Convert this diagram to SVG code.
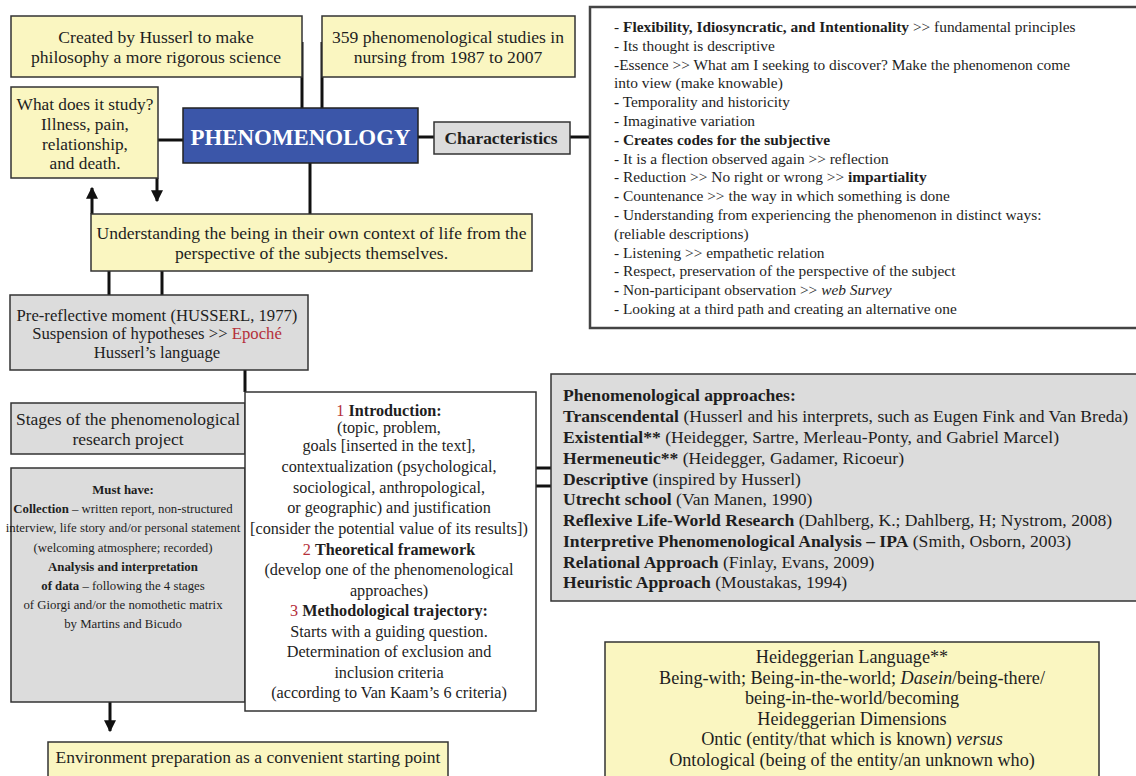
<svg xmlns="http://www.w3.org/2000/svg" width="1136" height="776" viewBox="0 0 1136 776">
<defs>
<style>
.y{fill:#faf6c1;stroke:#333;stroke-width:1.5}
.g{fill:#dcdcdc;stroke:#333;stroke-width:1.5}
.w{fill:#fff;stroke:#333;stroke-width:1.5}
.t{font-family:"Liberation Serif","Times New Roman",serif;fill:#1e1e1e}
.c{text-anchor:middle}
.b{font-weight:bold}
.i{font-style:italic}
.r{fill:#b5303a}
.ln{stroke:#111;stroke-width:3;fill:none}
</style>
<marker id="ah" viewBox="0 0 10 10" refX="9" refY="5" markerWidth="4" markerHeight="4" orient="auto" markerUnits="strokeWidth">
<path d="M0,0 L10,5 L0,10 z" fill="#111"/>
</marker>
</defs>
<rect width="1136" height="776" fill="#fff"/>

<g id="connectors">
<path class="ln" d="M302,42 V108"/>
<path class="ln" d="M322,42 V108"/>
<path class="ln" d="M158,140 H183"/>
<path class="ln" d="M418,137 H434"/>
<path class="ln" d="M570,137 H590"/>
<path class="ln" d="M310,163 V214"/>
<path class="ln" d="M157,178 V201" marker-end="url(#ah)"/>
<path class="ln" d="M92,214 V188" marker-end="url(#ah)"/>
<path class="ln" d="M109,271 V295"/>
<path class="ln" d="M162,271 V295"/>
<path class="ln" d="M245,370 V392"/>
<path class="ln" d="M536,468 H551"/>
<path class="ln" d="M536,486 H551"/>
<path class="ln" d="M110,702 V731" marker-end="url(#ah)"/>
</g>

<g id="n-created">
<rect class="y" x="11" y="16" width="291" height="61"/>
<text class="t c" x="156" y="43" font-size="17.6">Created by Husserl to make</text>
<text class="t c" x="156" y="63" font-size="17.6">philosophy a more rigorous science</text>
</g>

<g id="n-359">
<rect class="y" x="322" y="16" width="253" height="61"/>
<text class="t c" x="448" y="43" font-size="17.6">359 phenomenological studies in</text>
<text class="t c" x="448" y="63" font-size="17.6">nursing from 1987 to 2007</text>
</g>

<g id="n-what">
<rect class="y" x="11" y="87" width="147" height="91"/>
<text class="t c" x="85" y="110" font-size="17.3">What does it study?</text>
<text class="t c" x="85" y="130" font-size="17.3">Illness, pain,</text>
<text class="t c" x="85" y="150" font-size="17.3">relationship,</text>
<text class="t c" x="85" y="169" font-size="17.3">and death.</text>
</g>

<g id="n-phen">
<rect x="183" y="108" width="235" height="55" fill="#3b56a9" stroke="#222" stroke-width="1.5"/>
<text class="t c b" x="300.5" y="145" font-size="22.9" style="fill:#fff">PHENOMENOLOGY</text>
</g>

<g id="n-char">
<rect class="g" x="434" y="122" width="136" height="32"/>
<text class="t c b" x="501" y="144" font-size="17.4">Characteristics</text>
</g>

<g id="n-charlist">
<rect x="590" y="7" width="560" height="321" fill="#fff" stroke="#444" stroke-width="2.5"/>
<g class="t" font-size="15.4">
<text x="614" y="32">- <tspan class="b">Flexibility, Idiosyncratic, and Intentionality</tspan> &gt;&gt; fundamental principles</text>
<text x="614" y="50.8">- Its thought is descriptive</text>
<text x="614" y="69.6">-Essence &gt;&gt; What am I seeking to discover? Make the phenomenon come</text>
<text x="614" y="88.4">into view (make knowable)</text>
<text x="614" y="107.2"><tspan class="b">-</tspan> Temporality and historicity</text>
<text x="614" y="126">- Imaginative variation</text>
<text x="614" y="144.8" class="b">- Creates codes for the subjective</text>
<text x="614" y="163.6">- It is a flection observed again &gt;&gt; reflection</text>
<text x="614" y="182.4">- Reduction &gt;&gt; No right or wrong &gt;&gt; <tspan class="b">impartiality</tspan></text>
<text x="614" y="201.2"><tspan class="b">-</tspan> Countenance &gt;&gt; the way in which something is done</text>
<text x="614" y="220">- Understanding from experiencing the phenomenon in distinct ways:</text>
<text x="614" y="238.8">(reliable descriptions)</text>
<text x="614" y="257.6">- Listening &gt;&gt; empathetic relation</text>
<text x="614" y="276.4">- Respect, preservation of the perspective of the subject</text>
<text x="614" y="295.2"><tspan class="b">-</tspan> Non-participant observation &gt;&gt; <tspan class="i">web Survey</tspan></text>
<text x="614" y="314">- Looking at a third path and creating an alternative one</text>
</g>
</g>

<g id="n-understanding">
<rect class="y" x="91" y="214" width="441" height="57"/>
<text class="t c" x="311.5" y="239" font-size="17.6">Understanding the being in their own context of life from the</text>
<text class="t c" x="311.5" y="259" font-size="17.6">perspective of the subjects themselves.</text>
</g>

<g id="n-prereflective">
<rect class="g" x="10" y="295" width="298" height="75"/>
<text class="t c" x="157" y="320.5" font-size="16.7">Pre-reflective moment (HUSSERL, 1977)</text>
<text class="t c" x="157" y="339" font-size="16.7">Suspension of hypotheses &gt;&gt; <tspan class="r">Epoché</tspan></text>
<text class="t c" x="157" y="358" font-size="16.7">Husserl’s language</text>
</g>

<g id="n-stages">
<rect class="g" x="11" y="403" width="234" height="51"/>
<text class="t c" x="128" y="425" font-size="17.5">Stages of the phenomenological</text>
<text class="t c" x="128" y="445" font-size="17.5">research project</text>
</g>

<g id="n-musthave">
<rect class="g" x="11" y="468" width="234" height="234"/>
<g class="t c" font-size="12.8">
<text x="123" y="493.5" class="b">Must have:</text>
<text x="123" y="512.5"><tspan class="b">Collection</tspan> – written report, non-structured</text>
<text x="123" y="531.5">interview, life story and/or personal statement</text>
<text x="123" y="551.5">(welcoming atmosphere; recorded)</text>
<text x="123" y="570.5" class="b">Analysis and interpretation</text>
<text x="123" y="589.5"><tspan class="b">of data</tspan> – following the 4 stages</text>
<text x="123" y="608.5">of Giorgi and/or the nomothetic matrix</text>
<text x="123" y="627.5">by Martins and Bicudo</text>
</g>
</g>

<g id="n-intro">
<rect class="w" x="245" y="392" width="291" height="319"/>
<g class="t c" font-size="16.2">
<text x="389" y="415.5"><tspan class="r">1</tspan> <tspan class="b">Introduction:</tspan></text>
<text x="389" y="433">(topic, problem,</text>
<text x="389" y="450.5">goals [inserted in the text],</text>
<text x="389" y="472">contextualization (psychological,</text>
<text x="389" y="492.5">sociological, anthropological,</text>
<text x="389" y="513">or geographic) and justification</text>
<text x="389" y="534">[consider the potential value of its results])</text>
<text x="389" y="554.5"><tspan class="r">2</tspan> <tspan class="b">Theoretical framework</tspan></text>
<text x="389" y="575">(develop one of the phenomenological</text>
<text x="389" y="595.5">approaches)</text>
<text x="389" y="616"><tspan class="r">3</tspan> <tspan class="b">Methodological trajectory:</tspan></text>
<text x="389" y="636.5">Starts with a guiding question.</text>
<text x="389" y="657">Determination of exclusion and</text>
<text x="389" y="677.5">inclusion criteria</text>
<text x="389" y="698">(according to Van Kaam’s 6 criteria)</text>
</g>
</g>

<g id="n-approaches">
<rect class="g" x="551" y="374" width="600" height="227"/>
<g class="t" font-size="17.6">
<text x="563" y="401" class="b">Phenomenological approaches:</text>
<text x="563" y="422"><tspan class="b">Transcendental</tspan> (Husserl and his interprets, such as Eugen Fink and Van Breda)</text>
<text x="563" y="443"><tspan class="b">Existential**</tspan> (Heidegger, Sartre, Merleau-Ponty, and Gabriel Marcel)</text>
<text x="563" y="464"><tspan class="b">Hermeneutic**</tspan> (Heidegger, Gadamer, Ricoeur)</text>
<text x="563" y="484.5"><tspan class="b">Descriptive</tspan> (inspired by Husserl)</text>
<text x="563" y="505"><tspan class="b">Utrecht school</tspan> (Van Manen, 1990)</text>
<text x="563" y="526"><tspan class="b">Reflexive Life-World Research</tspan> (Dahlberg, K.; Dahlberg, H; Nystrom, 2008)</text>
<text x="563" y="547"><tspan class="b">Interpretive Phenomenological Analysis – IPA</tspan> (Smith, Osborn, 2003)</text>
<text x="563" y="567.5"><tspan class="b">Relational Approach</tspan> (Finlay, Evans, 2009)</text>
<text x="563" y="588"><tspan class="b">Heuristic Approach</tspan> (Moustakas, 1994)</text>
</g>
</g>

<g id="n-heidegger">
<rect class="y" x="605" y="642" width="494" height="150"/>
<g class="t c" font-size="18.2">
<text x="852" y="663">Heideggerian Language**</text>
<text x="852" y="683.5"><tspan>Being-with; Being-in-the-world; </tspan><tspan class="i">Dasein</tspan><tspan>/being-there/</tspan></text>
<text x="852" y="704">being-in-the-world/becoming</text>
<text x="852" y="724.5">Heideggerian Dimensions</text>
<text x="852" y="745">Ontic (entity/that which is known) <tspan class="i">versus</tspan></text>
<text x="852" y="765.5">Ontological (being of the entity/an unknown who)</text>
</g>
</g>

<g id="n-environment">
<rect class="y" x="48" y="742" width="400" height="50"/>
<text class="t c" x="248" y="763" font-size="17.5">Environment preparation as a convenient starting point</text>
</g>
</svg>
